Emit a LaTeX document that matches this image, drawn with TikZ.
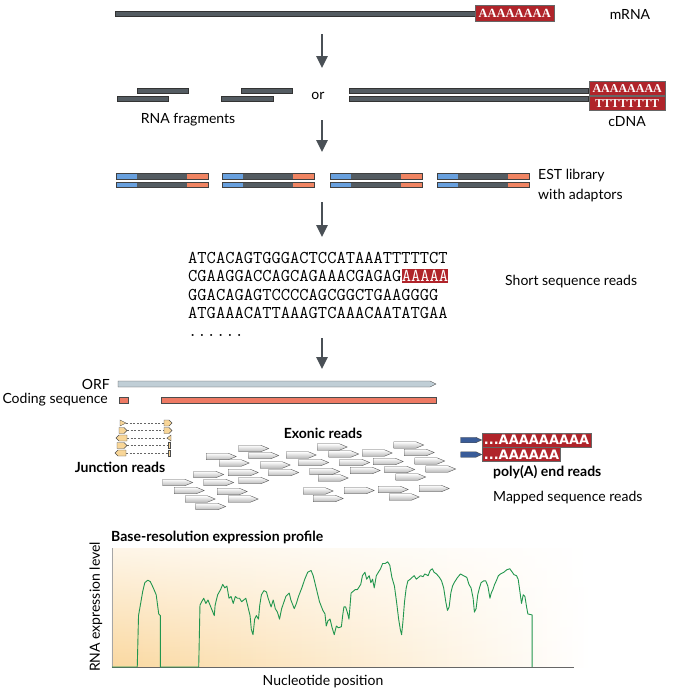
\documentclass[tikz,border=0pt]{standalone}
\usepackage{fontspec}
\setmainfont{Lato}
\newfontfamily\tailfont{Liberation Serif}
\newfontfamily\readfont{DejaVu Sans}
\usetikzlibrary{positioning,arrows.meta,shapes.symbols,fadings}

\definecolor{strandgray}{RGB}{84,92,98}
\definecolor{tailred}{RGB}{176,36,42}
\definecolor{adaptblue}{RGB}{104,160,222}
\definecolor{adaptorange}{RGB}{240,132,98}
\definecolor{orfgray}{RGB}{192,206,214}
\definecolor{cdsorange}{RGB}{238,122,100}
\definecolor{juncyellow}{RGB}{248,214,152}
\definecolor{readblue}{RGB}{58,92,152}
\definecolor{profgreen}{RGB}{34,150,78}
\definecolor{bgorange}{RGB}{250,216,160}
\definecolor{arrowgray}{RGB}{74,80,86}

\tikzfading[name=fadeup, top color=transparent!75, bottom color=transparent!0]

\tikzset{
  bar/.style={draw=black!80, fill=strandgray, line width=0.4pt},
  tailbox/.style={draw=black!60, fill=tailred, text=white, inner sep=0pt,
    font=\tailfont\bfseries\fontsize{12}{12}\selectfont, minimum height=14pt, minimum width=76pt},
  lbl/.style={font=\fontsize{14}{16}\selectfont, inner sep=0pt},
  blbl/.style={font=\bfseries\fontsize{14}{16}\selectfont, inner sep=0pt},
  seqline/.style={font=\ttfamily\fontsize{18}{18}\selectfont, inner sep=0pt, anchor=base west},
  flow/.style={draw=arrowgray, line width=2.6pt, -{Triangle[length=12pt,width=11pt]}},
  exread/.style={signal, signal to=east, signal pointer angle=45, minimum width=30pt,
    minimum height=6.5pt, inner sep=0pt, draw=black!65, top color=white, bottom color=gray!55,
    line width=0.4pt, anchor=west},
  polyread/.style={signal, signal to=east, signal pointer angle=50, minimum width=21pt,
    minimum height=5.5pt, inner sep=0pt, draw=black!70, fill=readblue, line width=0.4pt, anchor=west},
  polytail/.style={draw=black!60, fill=tailred, text=white, inner sep=1.5pt, anchor=west,
    minimum height=14pt, font=\readfont\bfseries\fontsize{13}{12}\selectfont},
  junc/.style={draw=black!70, fill=juncyellow, line width=0.4pt},
  gap/.style={draw=black!60, line width=0.6pt, dash pattern=on 2pt off 1.6pt}
}

\begin{document}
\begin{tikzpicture}[x=1pt,y=-1pt]
\useasboundingbox (0,0) rectangle (673,694);

% mRNA
\draw[bar] (115,11) rectangle (475,16);
\node[tailbox, anchor=west, minimum height=16pt, minimum width=79pt,
  font=\tailfont\bfseries\fontsize{12.5}{12}\selectfont] (mrnatail) at (475,13.5) {AAAAAAAA};
\node[lbl] (mrna) at (630,14) {mRNA};

\coordinate (s1) at (322,34);
\coordinate (e1) at (322,68);
\draw[flow] (s1) -- (e1);

% fragments or cDNA
\draw[bar] (137,88.5) rectangle (188,93);
\draw[bar] (117,96.5) rectangle (168,101);
\draw[bar] (241,88.5) rectangle (292,93);
\draw[bar] (221,96.5) rectangle (273,101);
\node[lbl] (or) at (318,96) {or};
\draw[bar] (349,88.5) rectangle (588,93.5);
\draw[bar] (349,96.5) rectangle (588,101.5);
\node[tailbox, anchor=north west] (cdnaA) at (589,81) {AAAAAAAA};
\node[tailbox, anchor=north west] (cdnaT) at (589,96) {TTTTTTTT};
\node[lbl] (frag) at (188,120) {RNA fragments};
\node[lbl] (cdna) at (627,122) {cDNA};

\coordinate (s2) at (322,120);
\coordinate (e2) at (322,152);
\draw[flow] (s2) -- (e2);

% EST library
\foreach \x in {116,222,330,437}{
  \foreach \y in {176,184.5}{
    \fill[adaptblue] (\x,{\y-2.7}) rectangle ({\x+21},{\y+2.7});
    \fill[strandgray] ({\x+21},{\y-2.7}) rectangle ({\x+71},{\y+2.7});
    \fill[adaptorange] ({\x+71},{\y-2.7}) rectangle ({\x+92},{\y+2.7});
    \draw[black!75, line width=0.4pt] (\x,{\y-2.7}) rectangle ({\x+92},{\y+2.7});
  }
}
\node[lbl, anchor=west] (est) at (538,176) {EST library};
\node[lbl, below=6pt of est.south west, anchor=north west] (adapt) {with adaptors};

\coordinate (s3) at (322,202);
\coordinate (e3) at (322,237);
\draw[flow] (s3) -- (e3);

% short reads
\node[seqline] (seq1) at (188,263) {ATCACAGTGGGACTCCATAAATTTTTCT};
\node[seqline] (seq2) at (188,281.5) {CGAAGGACCAGCAGAAACGAGAG};
\node[seqline, fill=tailred, text=white, inner ysep=1pt] (seqtail) at (seq2.base east) {AAAAA};
\node[seqline] (seq3) at (188,300) {GGACAGAGTCCCCAGCGGCTGAAGGGG};
\node[seqline] (seq4) at (188,318.5) {ATGAAACATTAAAGTCAAACAATATGAA};
\node[seqline] (seq5) at (188,336) {......};
\node[lbl, anchor=west] (short) at (505,282) {Short sequence reads};

\coordinate (s4) at (322,338);
\coordinate (e4) at (322,369);
\draw[flow] (s4) -- (e4);

% ORF and coding sequence
\draw[draw=black!70, fill=orfgray, line width=0.4pt] (118,381) -- (430,381) -- (436,384) -- (430,387) -- (118,387) -- cycle;
\node[lbl, anchor=east] (orf) at (110,384) {ORF};
\draw[draw=black!70, fill=cdsorange, line width=0.4pt] (119,397) rectangle (128,403);
\draw[draw=black!70, fill=cdsorange, line width=0.4pt] (161,397) rectangle (436,403);
\node[lbl, anchor=east] (cds) at (108,400) {Coding sequence};

% junction reads
\draw[gap] (126,423) -- (164,423);
\draw[junc] (120,420) -- (126,423) -- (120,426) -- cycle;
\draw[junc] (164,420) -- (169,420) -- (172,423) -- (169,426) -- (164,426) -- cycle;
\draw[gap] (127,430.5) -- (164,430.5);
\draw[junc] (119,427.5) -- (124,427.5) -- (127,430.5) -- (124,433.5) -- (119,433.5) -- cycle;
\draw[junc] (164,427.5) -- (169,427.5) -- (172,430.5) -- (169,433.5) -- (164,433.5) -- cycle;
\draw[gap] (127,438) -- (167,438);
\draw[junc] (116,438) -- (119,435) -- (127,435) -- (127,441) -- (119,441) -- cycle;
\draw[junc] (167,438) -- (171,435) -- (171,441) -- cycle;
\draw[gap] (127,445.5) -- (168,445.5);
\draw[junc] (117,442.5) -- (124,442.5) -- (127,445.5) -- (124,448.5) -- (117,448.5) -- cycle;
\draw[junc] (168,442.5) rectangle (170.5,448.5);
\draw[gap] (126,453) -- (168,453);
\draw[junc] (115,453) -- (118,450) -- (126,450) -- (126,456) -- (118,456) -- cycle;
\draw[junc] (168,450) rectangle (170.5,456);
\node[blbl] (junction) at (120,467) {Junction reads};

% exonic reads
\node[blbl] (exonic) at (323,433) {Exonic reads};
\foreach \x/\y [count=\i] in {238.5/448.5, 317/447, 393.5/445, 206/456.5, 248.5/455.5, 286/455,
  328.5/454, 362/453, 404/452.5, 219/463, 260/465, 298.5/462.5, 339.5/462.5, 373/461.5,
  414.5/461, 228/472.5, 193.5/474.5, 268.5/472.5, 309.5/471.5, 350/470.5, 384.5/469.5,
  425.5/469, 318/478, 395.5/477, 162.5/482.5, 203.5/482.5, 238.5/480.5, 174/490.5,
  217/491.5, 303/491, 344/490.5, 378/489.5, 419/488.5, 185/499, 228/499, 313/498.5,
  389/497, 195.5/506.5}
  \node[exread] (ex\i) at (\x,\y) {};

% poly(A) end reads
\node[polyread] (pa1) at (460.5,440) {};
\node[polytail] (pa1tail) at (pa1.east) {...AAAAAAAAA};
\node[polyread] (pa2) at (460.5,454.5) {};
\node[polytail] (pa2tail) at (pa2.east) {...AAAAAA};
\node[blbl, anchor=west] (polya) at (493,472) {poly(A) end reads};
\node[lbl, anchor=west] (mapped) at (493,498) {Mapped sequence reads};

% expression profile
\node[blbl, anchor=west] (profile) at (111,537) {Base-resolution expression profile};
\shade[left color=bgorange, right color=white, path fading=fadeup] (112,548) rectangle (590,667);
\draw[gray!70, line width=0.5pt] (112,548) -- (112,667);
\draw[gray!80!black, line width=1pt] (112,667) -- (574,667);
\node[lbl, rotate=90] (ylabel) at (96,607) {RNA expression level};
\node[lbl] (xlabel) at (323,682) {Nucleotide position};

\begin{scope}[shift={(58.55,514.92)}, x=0.4209pt, y={(0,-0.3472pt)}]
\draw[profgreen, line width=0.9pt, line join=round] plot coordinates {
  (127,438) (187,438) (190,290) (195,255) (200,220) (205,195) (212,188) (218,192)
  (225,210) (232,230) (238,285) (242,290) (242,438) (333,438) (336,260) (340,250)
  (345,240) (350,255) (355,245) (360,260) (365,275) (370,290) (372,260) (378,230)
  (385,215) (390,200) (395,210) (400,205) (405,240) (410,235) (415,255) (420,235)
  (425,240) (430,240) (435,250) (440,245) (445,240) (450,265) (455,290) (458,330)
  (462,345) (466,300) (470,290) (475,300) (478,260) (482,230) (488,218) (494,222)
  (498,240) (505,265) (510,245) (515,270) (520,280) (525,300) (530,270) (540,235)
  (548,225) (552,245) (560,270) (565,255) (570,235) (578,210) (585,185) (592,165)
  (600,160) (605,175) (610,200) (620,250) (628,275) (633,285) (636,320) (640,305)
  (645,300) (650,325) (655,345) (660,320) (665,325) (672,322) (675,290) (678,265)
  (682,265) (686,280) (690,300) (695,225) (700,220) (705,215) (710,215) (718,200)
  (722,175) (728,165) (732,185) (738,175) (742,195) (746,185) (750,210) (755,175)
  (760,165) (765,155) (770,140) (776,140) (782,135) (787,145) (792,180) (798,205)
  (803,250) (808,300) (812,330) (815,345) (818,310) (822,250) (826,210) (830,190)
  (836,185) (840,180) (845,175) (850,185) (855,180) (860,175) (866,178) (870,170)
  (878,175) (883,160) (888,155) (892,165) (898,170) (905,180) (910,190) (915,210)
  (920,250) (924,275) (928,265) (932,225) (936,205) (940,195) (948,180) (955,170)
  (962,175) (970,180) (975,200) (980,210) (985,240) (988,280) (992,270) (996,230)
  (1000,210) (1004,195) (1010,190) (1015,190) (1020,205) (1025,240) (1028,225) (1032,215)
  (1036,200) (1040,190) (1045,175) (1050,170) (1058,165) (1065,158) (1072,155) (1078,165)
  (1082,172) (1088,175) (1092,185) (1096,220) (1100,255) (1104,230) (1108,235) (1112,265)
  (1115,285) (1125,288) (1125,438)};
\end{scope}
\end{tikzpicture}
\end{document}
